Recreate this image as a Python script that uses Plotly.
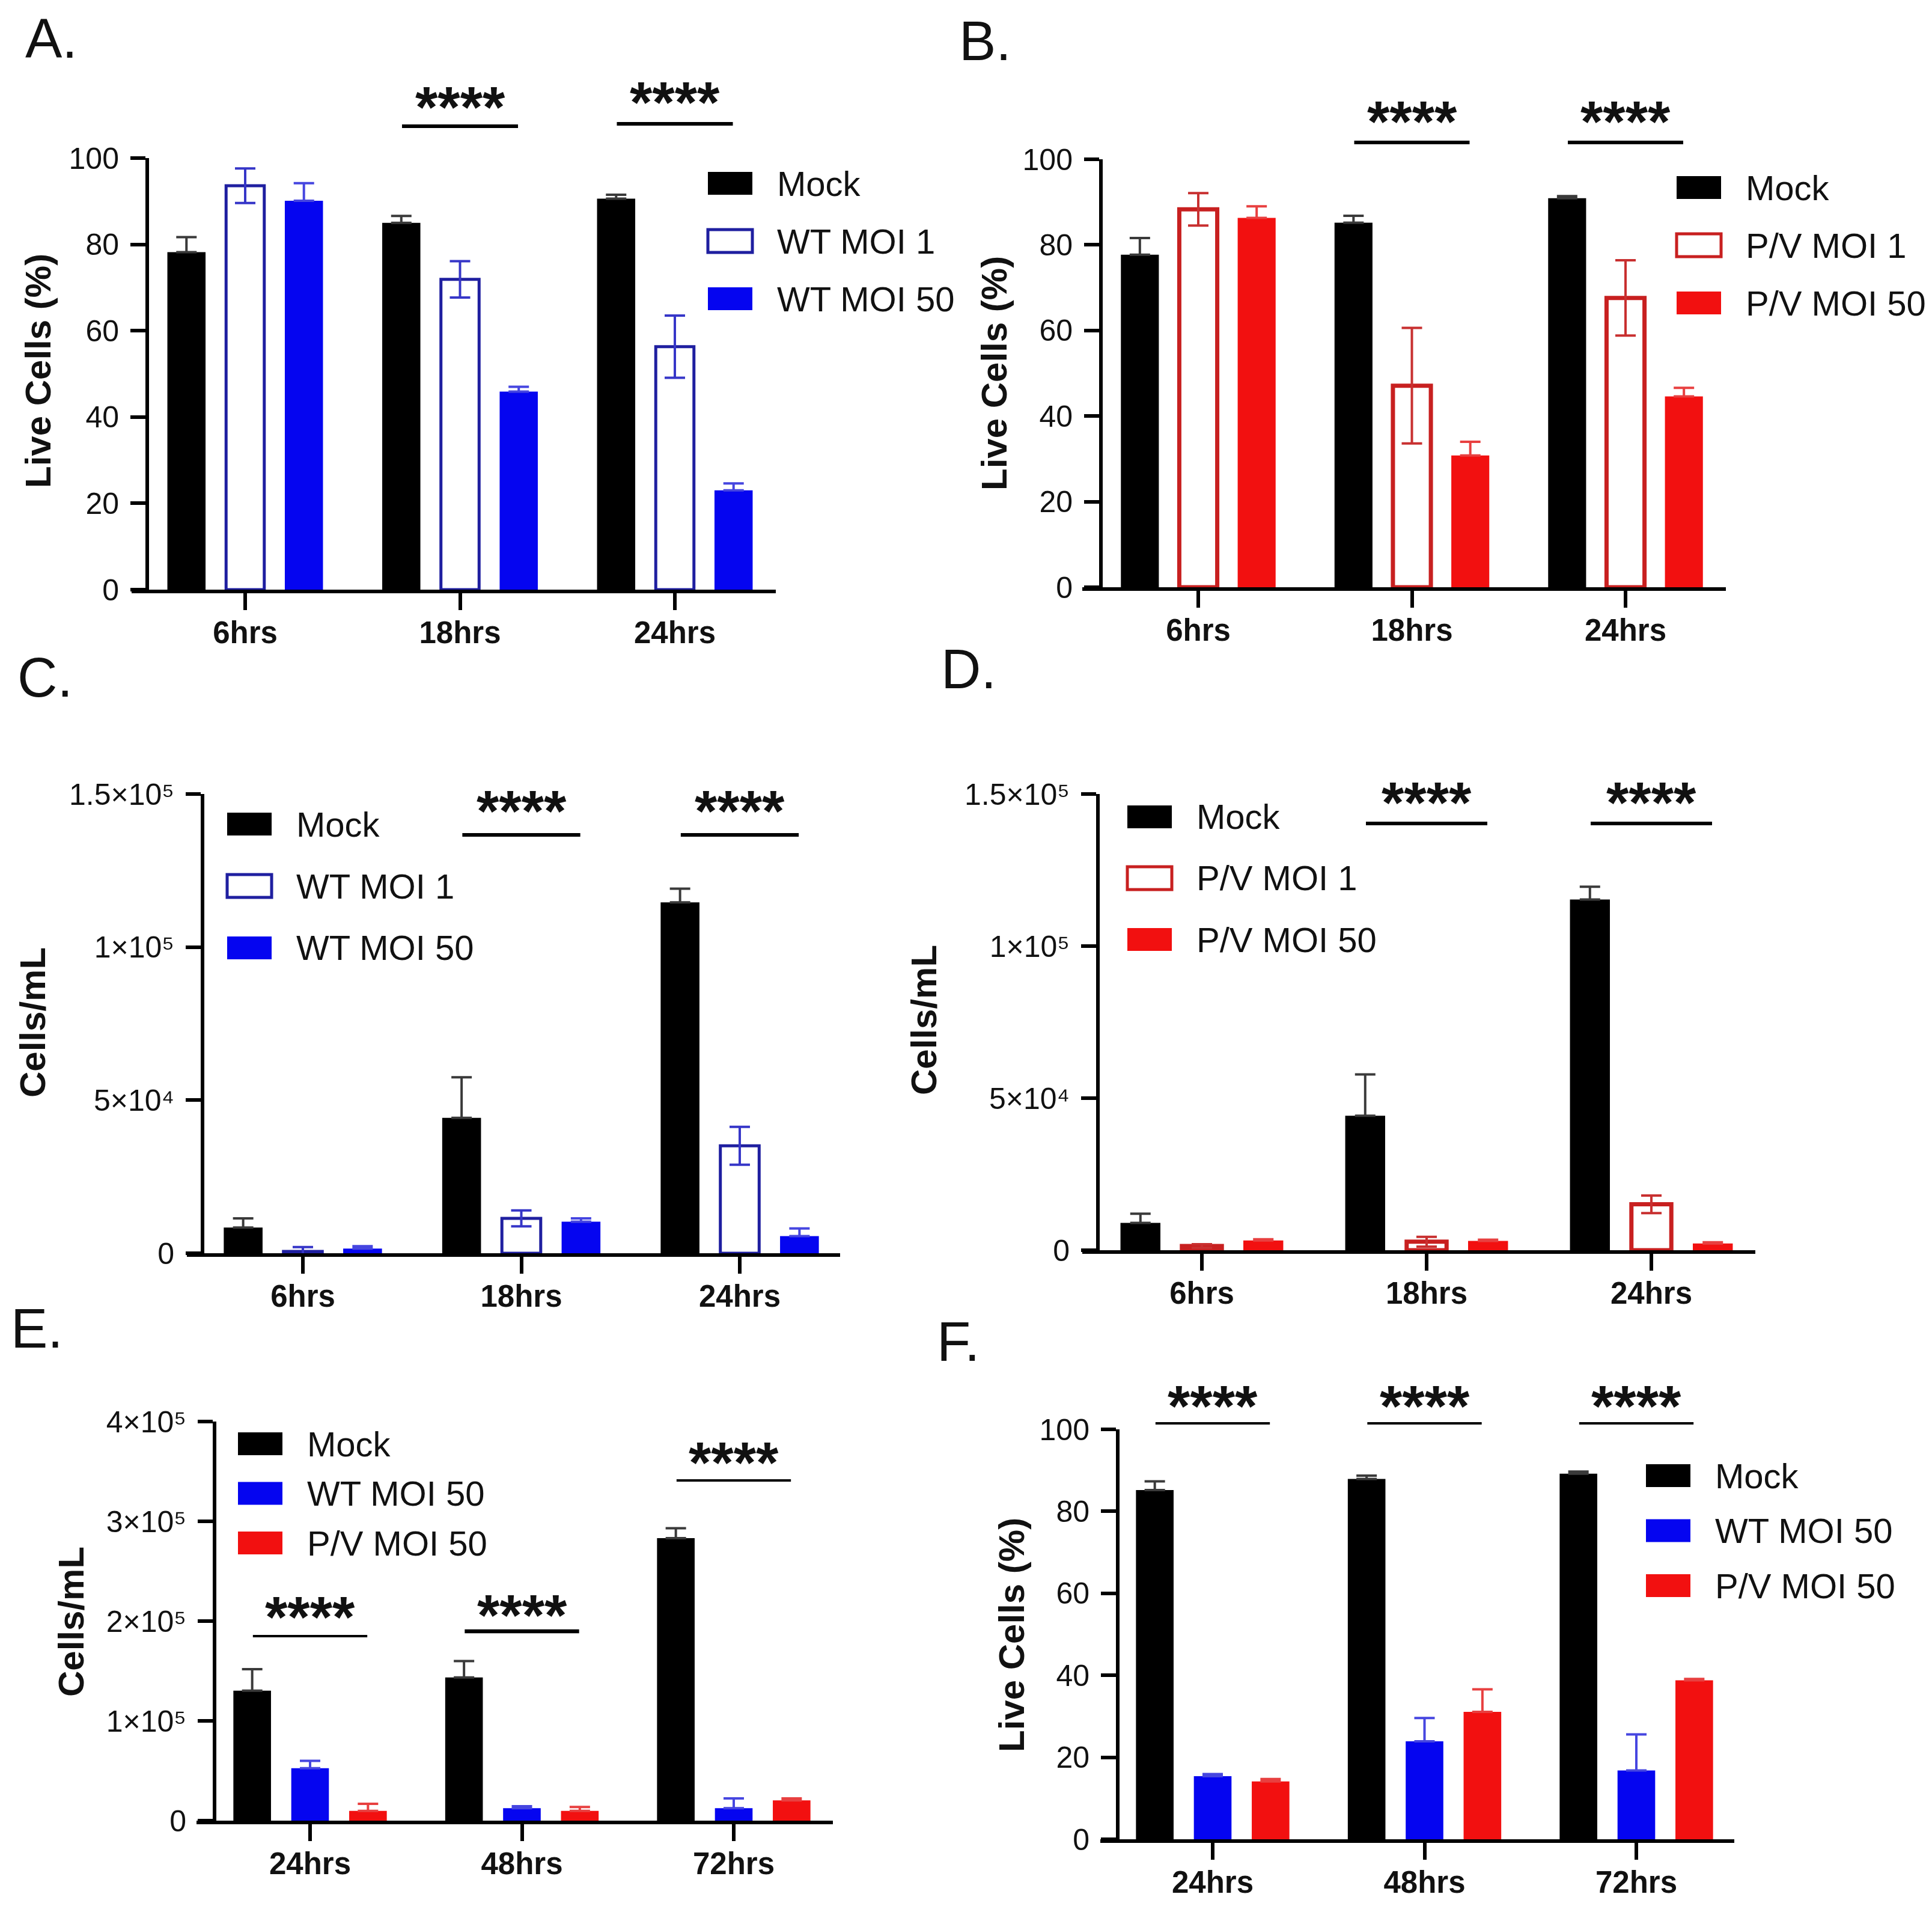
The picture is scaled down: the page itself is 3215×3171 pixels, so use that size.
import plotly.graph_objects as go

W, H = 3215, 3171
PAGE_PAD = 8  # the html body margin shifts the plot by this many px
FONT = "Liberation Sans, Arial, sans-serif"

BLACK = "#000000"
BLUE = "#0505f0"
BLUE_DK = "#1f1fa0"
RED = "#f21010"
RED_DK = "#c82020"

# ---- data ----
HOURS_EARLY = ["6hrs", "18hrs", "24hrs"]
HOURS_LATE = ["24hrs", "48hrs", "72hrs"]

# A. live cells (%) - WT
A_MOCK = [78.2, 85.0, 90.6]
A_MOCK_ERR = [3.5, 1.6, 0.9]
A_WT1 = [93.6, 71.9, 56.3]
A_WT1_ERR = [4.0, 4.2, 7.2]
A_WT50 = [90.1, 45.9, 23.0]
A_WT50_ERR = [4.1, 1.1, 1.6]

# B. live cells (%) - P/V
B_MOCK = [77.7, 85.2, 90.9]
B_MOCK_ERR = [3.9, 1.6, 0.5]
B_PV1 = [88.3, 47.1, 67.6]
B_PV1_ERR = [3.8, 13.5, 8.8]
B_PV50 = [86.3, 30.8, 44.6]
B_PV50_ERR = [2.7, 3.2, 2.0]

# C. cells/mL - WT
C_MOCK = [8400, 44200, 114600]
C_MOCK_ERR = [3000, 13300, 4500]
C_WT1 = [600, 11400, 35100]
C_WT1_ERR = [1400, 2600, 6200]
C_WT50 = [1500, 10300, 5600]
C_WT50_ERR = [800, 1100, 2500]

# D. cells/mL - P/V
D_MOCK = [9000, 44200, 115300]
D_MOCK_ERR = [3000, 13600, 4200]
D_PV1 = [1400, 2800, 15100]
D_PV1_ERR = [600, 1600, 2900]
D_PV50 = [3200, 3050, 2200]
D_PV50_ERR = [400, 400, 400]

# E. cells/mL - MOI 50, late
E_MOCK = [130200, 143500, 283200]
E_MOCK_ERR = [21600, 16500, 9800]
E_WT50 = [52500, 12500, 12500]
E_WT50_ERR = [7500, 2000, 9800]
E_PV50 = [9800, 9800, 20400]
E_PV50_ERR = [7000, 3900, 1900]

# F. live cells (%) - MOI 50, late
F_MOCK = [85.2, 87.9, 89.2]
F_MOCK_ERR = [2.1, 0.8, 0.5]
F_WT50 = [15.4, 23.9, 16.8]
F_WT50_ERR = [0.5, 5.7, 8.8]
F_PV50 = [14.1, 31.1, 38.8]
F_PV50_ERR = [0.6, 5.5, 0.3]

PCT_TICKS = [0, 20, 40, 60, 80, 100]
PCT_TEXT = ["0", "20", "40", "60", "80", "100"]
CD_TICKS = [0, 50000, 100000, 150000]
CD_TEXT = ["0", "5×10⁴", "1×10⁵", "1.5×10⁵"]
E_TICKS = [0, 100000, 200000, 300000, 400000]
E_TEXT = ["0", "1×10⁵", "2×10⁵", "3×10⁵", "4×10⁵"]

# style per series kind: (fill, line colour, line width, error colour, two-sided error)
STYLES = {
    "mock": (BLACK, BLACK, 0, "#3a3a3a", False),
    "wt_open": ("white", BLUE_DK, 5, "#3636c8", True),
    "wt": (BLUE, BLUE, 0, "#4646e0", False),
    "pv_open": ("white", RED_DK, 7, "#c83030", True),
    "pv": (RED, RED, 0, "#e84040", False),
}


def px(x):
    return (x - PAGE_PAD) / W


def py(y):
    return 1 - (y - PAGE_PAD) / H


fig = go.Figure()
shapes, annots = [], []


def add_panel(n, letter, cats, series, ytitle, yrange, tvals, ttext, geom, sig, leg):
    xa, ya = f"x{n}", f"y{n}"
    for name, vals, err, kind in series:
        fill, lc, lw, ec, both = STYLES[kind]
        fig.add_trace(go.Bar(
            x=cats, y=vals, name=name, xaxis=xa, yaxis=ya, showlegend=False,
            marker=dict(color=fill, line=dict(color=lc, width=lw)),
            error_y=dict(type="data", array=err, arrayminus=err if both else [0] * len(err),
                         symmetric=False, color=ec, thickness=4, width=17)))

    c0, c2 = geom["c0"], geom["c2"]
    s = (c2 - c0) / 2
    xr = [(geom["xl"] - c0) / s, 2 + (geom["xr"] - c2) / s]
    axis_common = dict(showline=True, linewidth=6, linecolor="black", ticks="outside",
                       tickwidth=6, tickcolor="black", showgrid=False, zeroline=False,
                       automargin=False)
    fig.layout[f"xaxis{n}"] = dict(
        domain=[px(geom["xl"]), px(geom["xr"])], anchor=ya, type="category",
        categoryorder="array", categoryarray=cats, range=xr, ticklen=28,
        ticklabelstandoff=-6,
        tickfont=dict(family=FONT, size=51, color="#111", weight="bold"), **axis_common)
    fig.layout[f"yaxis{n}"] = dict(
        domain=[py(geom["yb"]), py(geom["yt"])], anchor="free", position=px(geom["yx"]),
        range=yrange, tickvals=tvals, ticktext=ttext, ticklen=25, ticklabelstandoff=9,
        tickfont=dict(family=FONT, size=50, color="#111"), **axis_common)

    # significance bars
    for idx, sy, ly, lw in sig:
        shapes.append(dict(type="line", xref=xa, yref="paper", x0=idx - 0.27, x1=idx + 0.27,
                           y0=py(ly), y1=py(ly), line=dict(color="black", width=lw)))
        annots.append(dict(text="****", xref=xa, yref="paper", x=idx, y=py(sy + 12),
                           showarrow=False, xanchor="center", yanchor="middle",
                           font=dict(family=FONT, size=96, color="#111", weight="bold")))

    # legend
    lx, ly0, step = leg
    for k, (name, _, _, kind) in enumerate(series):
        fill, lc, lw, _, _ = STYLES[kind]
        ry = ly0 + k * step
        shapes.append(dict(type="rect", xref="paper", yref="paper",
                           x0=px(lx), x1=px(lx + 74), y0=py(ry + 19), y1=py(ry - 19),
                           fillcolor=fill, line=dict(color=lc, width=5 if lw else 0)))
        annots.append(dict(text=name, xref="paper", yref="paper", x=px(lx + 113), y=py(ry),
                           xanchor="left", yanchor="middle", showarrow=False,
                           font=dict(family=FONT, size=58, color="#111")))

    # y title + panel letter
    annots.append(dict(text=ytitle, xref="paper", yref="paper", x=px(geom["tx"]), y=py(geom["ty"]),
                       textangle=-90, showarrow=False, xanchor="center", yanchor="middle",
                       font=dict(family=FONT, size=60, color="#111", weight="bold")))
    annots.append(dict(text=letter, xref="paper", yref="paper", x=px(geom["lx"]), y=py(geom["ly"]),
                       xanchor="left", yanchor="middle", showarrow=False,
                       font=dict(family=FONT, size=92, color="#111")))


add_panel(1, "A.", HOURS_EARLY,
          [("Mock", A_MOCK, A_MOCK_ERR, "mock"), ("WT MOI 1", A_WT1, A_WT1_ERR, "wt_open"),
           ("WT MOI 50", A_WT50, A_WT50_ERR, "wt")],
          "Live Cells (%)", [0, 100], PCT_TICKS, PCT_TEXT,
          dict(xl=219, xr=1291, yx=245, yb=981, yt=263, c0=408, c2=1123, tx=64, ty=617, lx=40, ly=64),
          [(1, 165, 210, 6), (2, 158, 206, 6)], (1178, 305, 96))

add_panel(2, "B.", HOURS_EARLY,
          [("Mock", B_MOCK, B_MOCK_ERR, "mock"), ("P/V MOI 1", B_PV1, B_PV1_ERR, "pv_open"),
           ("P/V MOI 50", B_PV50, B_PV50_ERR, "pv")],
          "Live Cells (%)", [0, 100], PCT_TICKS, PCT_TEXT,
          dict(xl=1801, xr=2872, yx=1832, yb=977, yt=265, c0=1994, c2=2705, tx=1654, ty=621, lx=1594, ly=68),
          [(1, 189, 237, 6), (2, 189, 237, 6)], (2790, 312, 96))

add_panel(3, "C.", HOURS_EARLY,
          [("Mock", C_MOCK, C_MOCK_ERR, "mock"), ("WT MOI 1", C_WT1, C_WT1_ERR, "wt_open"),
           ("WT MOI 50", C_WT50, C_WT50_ERR, "wt")],
          "Cells/mL", [0, 150000], CD_TICKS, CD_TEXT,
          dict(xl=311, xr=1398, yx=337, yb=2085, yt=1321, c0=504, c2=1231, tx=54, ty=1701, lx=27, ly=1127),
          [(1, 1336, 1389, 6), (2, 1336, 1389, 6)], (378, 1371, 103))

add_panel(4, "D.", HOURS_EARLY,
          [("Mock", D_MOCK, D_MOCK_ERR, "mock"), ("P/V MOI 1", D_PV1, D_PV1_ERR, "pv_open"),
           ("P/V MOI 50", D_PV50, D_PV50_ERR, "pv")],
          "Cells/mL", [0, 150000], CD_TICKS, CD_TEXT,
          dict(xl=1801, xr=2921, yx=1827, yb=2080, yt=1321, c0=2000, c2=2748, tx=1538, ty=1697, lx=1564, ly=1113),
          [(1, 1322, 1370, 6), (2, 1322, 1370, 6)], (1876, 1359, 102))

add_panel(5, "E.", HOURS_LATE,
          [("Mock", E_MOCK, E_MOCK_ERR, "mock"), ("WT MOI 50", E_WT50, E_WT50_ERR, "wt"),
           ("P/V MOI 50", E_PV50, E_PV50_ERR, "pv")],
          "Cells/mL", [0, 400000], E_TICKS, E_TEXT,
          dict(xl=327, xr=1386, yx=357, yb=3029, yt=2365, c0=516, c2=1221, tx=118, ty=2698, lx=16, ly=2210),
          [(0, 2677, 2722, 4), (1, 2674, 2714, 6.5), (2, 2420, 2463, 4)], (396, 2402, 82.5))

add_panel(6, "F.", HOURS_LATE,
          [("Mock", F_MOCK, F_MOCK_ERR, "mock"), ("WT MOI 50", F_WT50, F_WT50_ERR, "wt"),
           ("P/V MOI 50", F_PV50, F_PV50_ERR, "pv")],
          "Live Cells (%)", [0, 100], PCT_TICKS, PCT_TEXT,
          dict(xl=1831, xr=2886, yx=1860, yb=3060, yt=2378, c0=2018, c2=2723, tx=1683, ty=2720, lx=1557, ly=2232),
          [(0, 2326, 2368, 4), (1, 2326, 2368, 4), (2, 2326, 2368, 4)], (2739, 2455, 91.5))

fig.update_layout(
    width=W, height=H, margin=dict(l=0, r=0, t=0, b=0, autoexpand=False),
    paper_bgcolor="white", plot_bgcolor="white",
    barmode="group", bargap=0.18, bargroupgap=0.35,
    showlegend=False, shapes=shapes, annotations=annots,
    font=dict(family=FONT, color="#111"),
)

fig.write_html("out.html")
